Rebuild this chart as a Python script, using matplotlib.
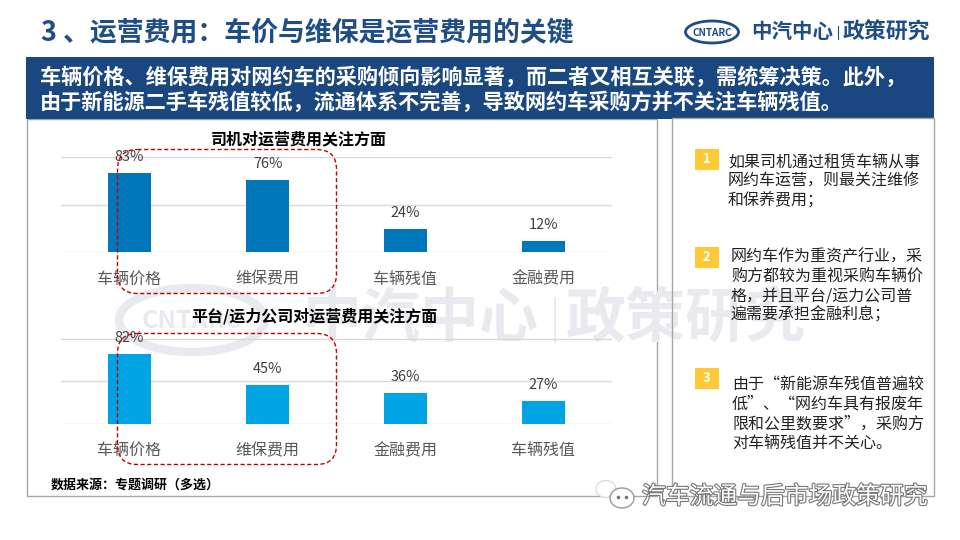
import matplotlib
matplotlib.use('Agg')
import matplotlib.pyplot as plt
from matplotlib.patches import Rectangle, FancyBboxPatch, Ellipse
import matplotlib.patheffects as pe

plt.rcParams['font.family'] = ['Noto Sans CJK SC', 'DejaVu Sans']

W, H = 960, 540
px = 0.72  # 1 px in pt at dpi 100

driver_title = '司机对运营费用关注方面'
driver_cats = ['车辆价格', '维保费用', '车辆残值', '金融费用']
driver_vals = [83, 76, 24, 12]
platform_title = '平台/运力公司对运营费用关注方面'
platform_cats = ['车辆价格', '维保费用', '金融费用', '车辆残值']
platform_vals = [82, 45, 36, 27]
title = '3 、运营费用：车价与维保是运营费用的关键'
banner_lines = ['车辆价格、维保费用对网约车的采购倾向影响显著，而二者又相互关联，需统筹决策。此外，',
                '由于新能源二手车残值较低，流通体系不完善，导致网约车采购方并不关注车辆残值。']
notes = [['如果司机通过租赁车辆从事', '网约车运营，则最关注维修', '和保养费用；'],
         ['网约车作为重资产行业，采', '购方都较为重视采购车辆价', '格，并且平台/运力公司普', '遍需要承担金融利息；'],
         ['由于“新能源车残值普遍较', '低”、“网约车具有报废年', '限和公里数要求”，采购方', '对车辆残值并不关心。']]

fig = plt.figure(figsize=(9.6, 5.4), dpi=100, facecolor='white')

# background layer in pixel coordinates
bg = fig.add_axes([0, 0, 1, 1], zorder=0)
bg.set_xlim(0, W); bg.set_ylim(H, 0); bg.axis('off')

wm = '#E8EAF0'
bg.add_patch(Ellipse((192, 320), 146, 64, fc='none', ec=wm, lw=6))
bg.text(192, 321, 'CNTARC', color=wm, fontsize=25*px, ha='center', va='center', weight='bold')
bg.text(303, 320, '中汽中心', color=wm, fontsize=59*px, ha='left', va='center', weight='bold')
bg.plot([555, 555], [298, 342], color=wm, lw=1.5)
bg.text(566, 320, '政策研究', color=wm, fontsize=60*px, ha='left', va='center', weight='bold')

frame = '#A6A6A6'
bg.add_patch(Rectangle((26.5, 119), 630.5, 377, fc='none', ec=frame, lw=1))


def bar_panel(rect_px, cats, vals, color):
    x0, y0, x1, y1 = rect_px
    ax = fig.add_axes([x0/W, 1-y1/H, (x1-x0)/W, (y1-y0)/H], zorder=1)
    ax.patch.set_alpha(0)
    ax.bar(range(len(cats)), vals, width=0.31, color=color, zorder=3)
    ax.set_xlim(-0.5, len(cats)-0.5)
    ax.set_ylim(0, 100)
    ax.set_yticks([0, 50, 100])
    ax.set_yticklabels([])
    ax.set_xticks(range(len(cats)))
    ax.set_xticklabels(cats, fontsize=16*px, color='#595959')
    ax.tick_params(length=0)
    ax.tick_params(axis='x', pad=13.5)
    ax.grid(axis='y', color='#D9D9D9', lw=1, zorder=0)
    ax.set_axisbelow(True)
    for s in ax.spines.values():
        s.set_visible(False)
    for i, v in enumerate(vals):
        ax.annotate(f'{v}%', (i, v), xytext=(0, 11.5), textcoords='offset points',
                    ha='center', va='center', fontsize=14.5*px, color='#404040',
                    annotation_clip=False, zorder=5)
    return ax


bar_panel((60.5, 157, 612.5, 252), driver_cats, driver_vals, '#0077BB')
bar_panel((60.5, 338.5, 612.5, 423.5), platform_cats, platform_vals, '#00A3E3')

# foreground layer
fg = fig.add_axes([0, 0, 1, 1], zorder=2)
fg.set_xlim(0, W); fg.set_ylim(H, 0); fg.axis('off'); fg.patch.set_alpha(0)

fg.text(41, 33.5, title, color='#1F4E86', fontsize=26.9*px, weight='bold', ha='left', va='center')

fg.add_patch(Rectangle((26, 57), 908, 61.5, fc='#1A4780', ec='none'))
fg.add_patch(Rectangle((671.5, 118), 262, 378, fc='none', ec=frame, lw=1))
for y, line in zip((77, 102), banner_lines):
    fg.text(40, y, line, color='white', fontsize=21.2*px, weight='bold', ha='left', va='center')

fg.text(299, 139.5, driver_title, color='black', fontsize=16*px, weight='bold', ha='center', va='center')
fg.text(314, 316, platform_title, color='black', fontsize=16*px, weight='bold', ha='center', va='center')

for (x, y, w, h) in ((117.5, 149.5, 219, 144), (117.5, 333.5, 219, 131)):
    fg.add_patch(FancyBboxPatch((x+20, y+20), w-40, h-40, boxstyle='round,pad=20,rounding_size=20',
                                fc='none', ec='#C00000', lw=1, ls=(0, (3, 1.8))))

fg.text(51, 486, '数据来源：专题调研（多选）', color='black', fontsize=13*px, weight='bold', ha='left', va='center')

# numbered notes
note_pos = [(695, 149, 728, 162), (695, 247, 731, 257), (695, 368, 732, 385)]
for i, (bx, by, tx, ty) in enumerate(note_pos):
    fg.add_patch(Rectangle((bx, by), 24, 21, fc='#FFC936', ec='none'))
    fg.text(bx+11.5, by+10, str(i+1), color='white', fontsize=13*px, weight='bold', ha='center', va='center')
    for j, line in enumerate(notes[i]):
        fg.text(tx, ty+j*19.3, line, color='#222222', fontsize=16*px, ha='left', va='center')

# header logo
navy = '#1F4E86'
fg.add_patch(Ellipse((712, 32), 53, 22, fc='white', ec=navy, lw=2))
fg.text(712, 32.5, 'CNTARC', color=navy, fontsize=10*px, weight='bold', ha='center', va='center')
fg.text(751.5, 32, '中汽中心', color=navy, fontsize=20.5*px, weight='bold', ha='left', va='center')
fg.plot([837.5, 837.5], [26, 39], color=navy, lw=0.8)
fg.text(843, 32, '政策研究', color=navy, fontsize=21.9*px, weight='bold', ha='left', va='center')

# WeChat mark
stroke = [pe.withStroke(linewidth=1.6, foreground='#777777')]
fg.text(642, 497, '汽车流通与后市场政策研究', color='white', fontsize=23.8*px,
        ha='left', va='center', path_effects=stroke)
fg.add_patch(Ellipse((606, 489), 20, 17, fc='white', ec='#DDDDDD', lw=1))
fg.add_patch(Ellipse((622, 498), 24, 20, fc='white', ec='#999999', lw=1))
fg.plot([618, 626], [497, 497], ls='none', marker='o', ms=1.6, color='#777777')

fig.savefig('out.png', dpi=100)
